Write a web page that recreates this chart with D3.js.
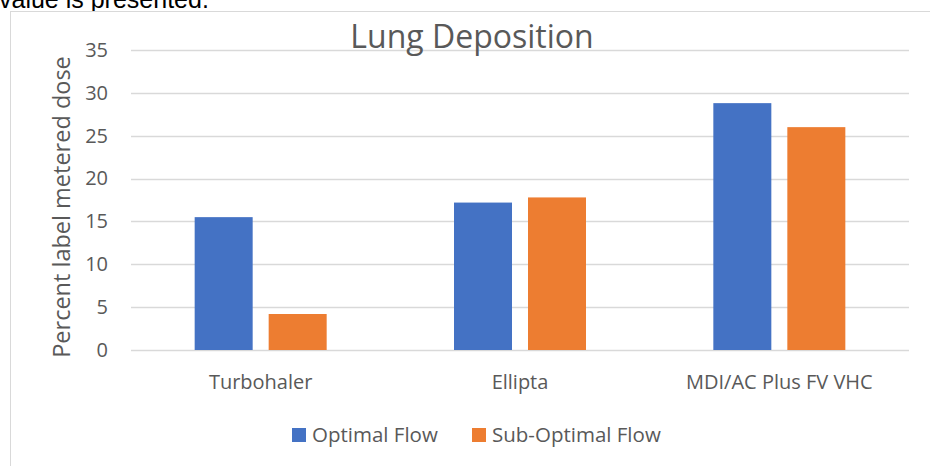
<!DOCTYPE html>
<html><head><meta charset="utf-8">
<script src="https://cdn.jsdelivr.net/npm/d3@7"></script>
<style>body{margin:0;background:#fff;overflow:hidden}</style>
</head><body>
<svg id="c" width="930" height="466"></svg>
<script>
const categories = ["Turbohaler", "Ellipta", "MDI/AC Plus FV VHC"];
const seriesNames = ["Optimal Flow", "Sub-Optimal Flow"];
const optimalFlow = [15.5, 17.2, 28.8];
const subOptimalFlow = [4.2, 17.8, 26.0];
const yTicks = [0, 5, 10, 15, 20, 25, 30, 35];
const colors = ["#4472C4", "#ED7D31"];

const svg = d3.select("#c");
const font = "'Open Sans', 'Noto Sans', sans-serif";
const textCol = "#595959";

// caption fragment at top
svg.append("text").attr("x", -1).attr("y", 8).attr("font-family", "Arial, 'Liberation Sans', sans-serif")
  .attr("font-size", 25).attr("fill", "#000").text("value is presented.");

// chart border
svg.append("rect").attr("x", 10.5).attr("y", 11.5).attr("width", 930).attr("height", 470)
  .attr("fill", "#fff").attr("stroke", "#d9d9d9").attr("stroke-width", 1);

const m = {left: 131, right: 909, top: 50, bottom: 350};
const x0 = d3.scaleBand().domain(categories).range([m.left, m.right]).paddingInner(0).paddingOuter(0);
const groupW = 132;
const x1 = d3.scaleBand().domain(seriesNames)
  .range([(x0.bandwidth() - groupW) / 2, (x0.bandwidth() + groupW) / 2])
  .paddingInner(16 / 74).paddingOuter(0);
const y = d3.scaleLinear().domain([0, 35]).range([m.bottom, m.top]);

// gridlines
svg.append("g").selectAll("line").data(yTicks).join("line")
  .attr("x1", m.left).attr("x2", m.right)
  .attr("y1", d => Math.round(y(d)) + 0.5).attr("y2", d => Math.round(y(d)) + 0.5)
  .attr("stroke", "#d9d9d9").attr("stroke-width", 1.5);

// y axis labels
const yAxis = d3.axisLeft(y).tickValues(yTicks).tickSize(0).tickPadding(0);
const ya = svg.append("g").attr("transform", `translate(${m.left - 23},0)`).call(yAxis);
ya.select(".domain").remove();
ya.selectAll("text").attr("font-family", font).attr("font-size", 20).attr("fill", textCol);

// bars
const series = [optimalFlow, subOptimalFlow];
const g = svg.append("g");
categories.forEach((c, i) => {
  series.forEach((vals, s) => {
    g.append("rect")
      .attr("x", x0(c) + x1(seriesNames[s]))
      .attr("y", y(vals[i]))
      .attr("width", x1.bandwidth())
      .attr("height", y(0) - y(vals[i]))
      .attr("fill", colors[s]);
  });
});

// x axis labels
const xAxis = d3.axisBottom(x0).tickSize(0).tickPadding(0);
const xa = svg.append("g").attr("transform", `translate(0,${m.bottom + 25})`).call(xAxis);
xa.select(".domain").remove();
xa.selectAll("text").attr("font-family", font).attr("font-size", 20).attr("fill", textCol);

// title
svg.append("text").attr("x", 472).attr("y", 48).attr("text-anchor", "middle")
  .attr("font-family", font).attr("font-size", 32).attr("fill", textCol).text("Lung Deposition");

// y title
svg.append("text").attr("transform", "translate(70,207) rotate(-90)").attr("text-anchor", "middle")
  .attr("font-family", font).attr("font-size", 23.5).attr("fill", textCol).text("Percent label metered dose");

// legend
const legX = [292, 472];
seriesNames.forEach((n, i) => {
  svg.append("rect").attr("x", legX[i]).attr("y", 428).attr("width", 14).attr("height", 14).attr("fill", colors[i]);
  svg.append("text").attr("x", legX[i] + 20).attr("y", 442).attr("font-family", font)
    .attr("font-size", 20.5).attr("fill", textCol).text(n);
});
</script>
</body></html>
